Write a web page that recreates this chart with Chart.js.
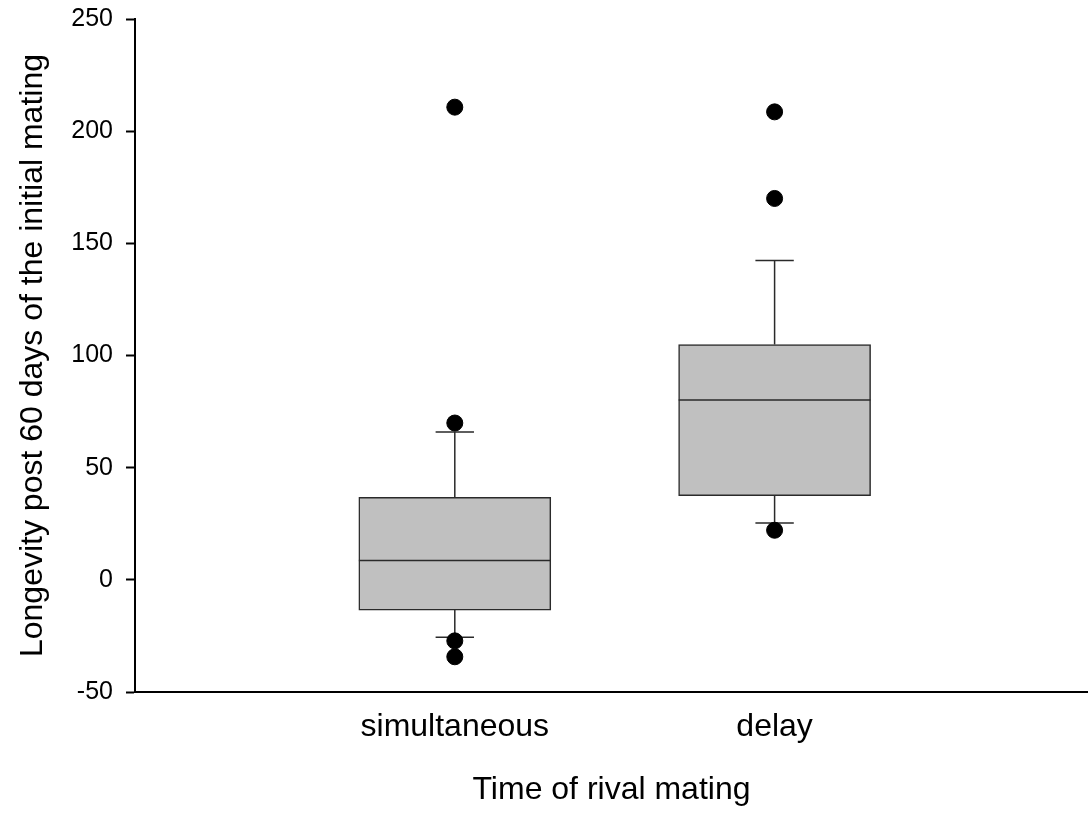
<!DOCTYPE html>
<html>
<head>
<meta charset="utf-8">
<script src="https://cdn.jsdelivr.net/npm/chart.js@4"></script>
<style>
  html, body { margin: 0; padding: 0; background: #ffffff; }
  #wrap { width: 1088px; height: 815px; }
</style>
</head>
<body>
<div id="wrap"><canvas id="c"></canvas></div>
<script>
// Box-plot summary per group
const categories = ['simultaneous', 'delay'];
const positions = [1, 2];
const q1 = [-13.5, 37.5];
const medians = [8.6, 80.2];
const q3 = [36.8, 104.9];
const whiskerLow = [-25.6, 25.3];
const whiskerHigh = [65.9, 142.4];
const outliers = [[210.7, 69.9, -27.2, -34.3], [208.6, 170.0, 22.1]];
const yTicks = [-50, 0, 50, 100, 150, 200, 250];

const FONT = "'Liberation Sans', Arial, sans-serif";
const BOX_HALF = 0.3;   // half box width in x units
const CAP_HALF = 0.06;  // half whisker-cap width in x units
const LINE = '#2a2a2a';

// Segment lists, separated by null gaps
const medianPts = [];
const whiskerPts = [];
positions.forEach((p, i) => {
  medianPts.push({x: p - BOX_HALF, y: medians[i]}, {x: p + BOX_HALF, y: medians[i]}, {x: p, y: null});
  whiskerPts.push({x: p, y: q3[i]}, {x: p, y: whiskerHigh[i]}, {x: p, y: null});
  whiskerPts.push({x: p - CAP_HALF, y: whiskerHigh[i]}, {x: p + CAP_HALF, y: whiskerHigh[i]}, {x: p, y: null});
  whiskerPts.push({x: p, y: q1[i]}, {x: p, y: whiskerLow[i]}, {x: p, y: null});
  whiskerPts.push({x: p - CAP_HALF, y: whiskerLow[i]}, {x: p + CAP_HALF, y: whiskerLow[i]}, {x: p, y: null});
});
const outlierPts = [];
positions.forEach((p, i) => outliers[i].forEach(v => outlierPts.push({x: p, y: v})));

new Chart(document.getElementById('c'), {
  type: 'bar',
  data: {
    datasets: [
      {
        type: 'bar',
        data: positions.map((p, i) => ({x: p, y: [q1[i], q3[i]]})),
        backgroundColor: '#c0c0c0',
        borderColor: LINE,
        borderWidth: 1.5,
        borderSkipped: false,
        barThickness: 192,
        order: 3
      },
      {
        type: 'line',
        data: whiskerPts,
        borderColor: LINE,
        borderWidth: 1.5,
        pointRadius: 0,
        spanGaps: false,
        order: 4
      },
      {
        type: 'line',
        data: medianPts,
        borderColor: LINE,
        borderWidth: 1.5,
        pointRadius: 0,
        spanGaps: false,
        order: 2
      },
      {
        type: 'scatter',
        data: outlierPts,
        backgroundColor: '#000000',
        borderColor: '#000000',
        pointRadius: 8,
        pointHoverRadius: 8,
        order: 1
      }
    ]
  },
  options: {
    responsive: true,
    maintainAspectRatio: false,
    animation: false,
    events: [],
    layout: { autoPadding: false, padding: { top: 19, right: 0, bottom: 0, left: 0 } },
    plugins: { legend: { display: false }, tooltip: { enabled: false } },
    scales: {
      x: {
        type: 'linear',
        offset: false,
        min: 0,
        max: 2.98,
        afterBuildTicks: s => { s.ticks = positions.map(v => ({value: v})); },
        afterFit: s => { s.height = 123; s.paddingLeft = 0; s.paddingRight = 0; },
        ticks: {
          autoSkip: false,
          maxRotation: 0,
          padding: 16,
          color: '#000',
          font: { family: FONT, size: 32 },
          callback: v => categories[positions.indexOf(v)]
        },
        grid: { display: false, drawTicks: false, offset: false },
        border: { display: true, color: '#000', width: 2 },
        title: {
          display: true,
          text: 'Time of rival mating',
          color: '#000',
          font: { family: FONT, size: 32 },
          padding: { top: 0, bottom: 6 }
        }
      },
      y: {
        type: 'linear',
        min: -50,
        max: 250,
        afterBuildTicks: s => { s.ticks = yTicks.map(v => ({value: v})); },
        afterFit: s => { s.width = 135; s.paddingTop = 0; s.paddingBottom = 0; },
        ticks: {
          padding: 13,
          color: '#000',
          font: { family: FONT, size: 25 }
        },
        grid: {
          display: true,
          drawOnChartArea: false,
          drawTicks: true,
          tickLength: 9,
          tickWidth: 2,
          tickColor: '#000'
        },
        border: { display: true, color: '#000', width: 2 },
        title: {
          display: true,
          text: 'Longevity post 60 days of the initial mating',
          color: '#000',
          font: { family: FONT, size: 32 },
          padding: { top: 14, bottom: 0 }
        }
      }
    }
  }
});
</script>
</body>
</html>
